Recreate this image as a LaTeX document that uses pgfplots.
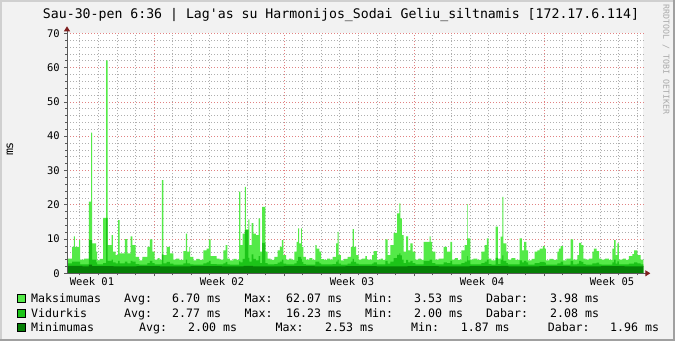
\documentclass[border=0pt]{standalone}
\usepackage{pgfplots}
\pgfplotsset{compat=1.18}
\usepackage{fontspec}
\setmainfont{DejaVu Sans Mono}
\setmonofont{DejaVu Sans Mono}
\usetikzlibrary{arrows.meta}
\definecolor{bgc}{RGB}{242,242,242}
\definecolor{shadeA}{RGB}{208,208,208}
\definecolor{shadeB}{RGB}{160,160,160}
\definecolor{cmax}{RGB}{84,234,72}
\definecolor{cavg}{RGB}{28,196,24}
\definecolor{cmin}{RGB}{6,128,6}
\definecolor{gridminor}{RGB}{175,175,175}
\definecolor{gridmajor}{RGB}{225,130,130}
\definecolor{axiscol}{RGB}{90,90,90}
\definecolor{arrowcol}{RGB}{127,31,31}
\definecolor{wmark}{RGB}{170,170,170}
\newcommand{\fT}{\ttfamily\fontsize{13.2}{15}\selectfont}
\newcommand{\fL}{\ttfamily\fontsize{11.6}{14}\selectfont}
\newcommand{\fA}{\ttfamily\fontsize{10.5}{12}\selectfont}
\begin{document}
\begin{tikzpicture}[x=1pt,y=1pt]
\fill[bgc] (0,0) rectangle (675,341);
\useasboundingbox (0,0) rectangle (675,341);
\fill[shadeA] (0,0) rectangle (2,341);
\fill[shadeA] (0,339) rectangle (675,341);
\fill[shadeB] (673,0) rectangle (675,341);
\fill[shadeB] (0,0) rectangle (675,2);
\begin{axis}[
  at={(67pt,67.7pt)}, anchor=south west,
  scale only axis, width=576.3pt, height=240pt,
  xmin=0, xmax=744.4, ymin=0, ymax=70,
  clip=false,
  axis line style={draw=none},
  axis background/.style={fill=white},
  grid=both,
  major grid style={color=gridmajor, dash pattern=on 1pt off 2pt, line width=0.7pt},
  minor grid style={color=gridminor, dash pattern=on 1pt off 2pt, line width=0.7pt},
  ytick={0,10,...,70}, minor y tick num=4,
  xtick={112.4,280.4,448.4,616.4}, xticklabels={},
  minor xtick={16.4,40.4,64.4,88.4,136.4,160.4,184.4,208.4,232.4,256.4,304.4,328.4,352.4,376.4,400.4,424.4,472.4,496.4,520.4,544.4,568.4,592.4,640.4,664.4,688.4,712.4,736.4},
  extra x ticks={32.3,200.2,368.1,536.1,704.0},
  extra x tick labels={Week 01,Week 02,Week 03,Week 04,Week 05},
  extra x tick style={grid=none, major tick length=0pt},
  xtick pos=bottom, ytick pos=left,
  tick align=outside, major tick length=3pt, minor tick length=2pt,
  tick style={color=axiscol, line width=0.6pt},
  /pgf/number format/assume math mode=true,
  yticklabel style={font=\fA, anchor=east, inner sep=0pt, xshift=-4pt},
  xticklabel style={font=\fA, anchor=base, inner sep=0pt, yshift=-12.5pt},
]
\addplot[const plot, fill=cmax, draw=none] coordinates {
(0,4.3) (6.5,7.7) (9.0,10.8) (10.3,7.7) (15.5,9.7) (16.8,4.0) (22,4.3) (28.4,20.9) (31.0,41) (32.3,8.7) (37.5,6.3) (38.8,3.8) (42,4.2) (46.5,16.2) (50.4,62.1) (52.6,8.2) (57.7,11.1) (59.4,6.3) (62.9,5.3) (65.9,15.5) (68.1,5.8) (74.9,10.0) (77.9,5.8) (82.3,10.8) (84.3,8.2) (88.7,4.8) (93.0,3.8) (97.3,4.8) (103.7,7.7) (107.2,9.9) (110.2,6.3) (113.3,4.0) (117,4.4) (119.5,3.9) (122.7,27.2) (124.6,5.3) (128.8,7.7) (133.0,5.8) (137.3,4.0) (141,4.3) (145,3.9) (150.2,6.5) (153.7,11.6) (155.0,6.3) (158.0,7.7) (158.9,4.8) (163.1,3.8) (167,4.2) (171,3.9) (176.1,6.7) (180.4,7.2) (183.4,9.9) (185.6,5.0) (193.4,4.3) (197,4.0) (201.9,6.7) (205.0,8.2) (207.1,4.3) (210.5,3.8) (215,4.2) (219,3.9) (222.2,23.8) (223.9,8.2) (227.0,11.6) (229.9,25.2) (231.2,12.8) (234.2,15.7) (235.5,8.2) (238.6,14.6) (240.6,11.6) (244.1,11.1) (247.6,16.0) (249.3,6.3) (251.9,19.4) (256.1,6.3) (259.2,4.3) (263,3.9) (267.8,4.8) (272.2,6.7) (275.1,7.7) (277.7,9.7) (279.4,5.3) (282.9,4.0) (287,4.3) (290,3.9) (293.6,6.3) (296.7,9.2) (298.4,13.1) (299.7,8.7) (302.3,13.1) (303.5,7.7) (305.2,4.8) (308.7,4.0) (313,4.4) (317,3.9) (320.7,8.2) (322.5,7.2) (325.9,6.3) (328.1,4.1) (332,3.9) (336,4.3) (340,4.0) (343.2,4.8) (347.5,8.7) (349.7,12.1) (351.0,5.3) (353.9,3.8) (358,4.2) (362.6,4.8) (366.8,7.7) (369.0,12.9) (370.7,7.7) (373.3,5.3) (376.8,4.0) (381,4.3) (385.3,5.0) (387.5,4.0) (394.0,5.3) (396.2,6.5) (400.4,4.0) (405,4.3) (408,3.9) (411.1,9.9) (414.2,5.3) (417.6,8.2) (422.0,11.8) (426.3,17.5) (429.2,20.4) (430.5,16.0) (432.7,11.1) (434.9,6.3) (437.9,10.8) (440.5,6.7) (443.4,8.7) (446.5,6.3) (449.9,4.0) (454,4.3) (457,3.9) (460.7,9.2) (468.5,10.8) (469.8,9.2) (471.5,6.3) (475.7,4.0) (480.1,4.3) (486.6,7.7) (490.8,6.3) (495.1,9.2) (497.3,4.0) (501,4.4) (505,3.9) (509.3,6.7) (513.7,8.2) (516.7,20.2) (517.6,10.2) (520.9,4.0) (525,4.3) (530,3.9) (535.2,6.3) (539.5,8.2) (542.5,10.2) (544.7,4.3) (548.1,3.8) (553.7,13.6) (556.7,4.3) (560.2,10.7) (562.3,22.3) (563.6,8.7) (567.4,6.3) (569.6,4.0) (574,4.4) (579,3.9) (584.7,10.2) (587.7,6.7) (590.3,9.2) (593.3,6.7) (595.5,3.8) (600,4.2) (604.1,6.3) (607.5,6.7) (610.6,7.2) (614.8,7.9) (617.0,7.2) (618.7,3.8) (623,4.2) (628,3.9) (633.3,6.3) (635.5,7.2) (637.7,7.9) (640.7,3.8) (645,4.3) (650.6,9.9) (653.6,4.0) (659.1,5.3) (661.4,8.9) (664.3,8.2) (666.9,4.3) (670.0,4.0) (674,4.3) (678.5,6.3) (680.7,7.2) (684.2,6.5) (687.2,4.3) (690.1,4.0) (695,4.3) (700,3.9) (704.4,7.2) (706.6,9.7) (708.8,5.3) (710.8,8.7) (713.0,4.0) (718,4.3) (722,3.9) (725.9,5.0) (730.2,5.6) (732.4,6.7) (736.6,5.3) (741.0,4.0) (744.4,4.0)
} \closedcycle;
\addplot[const plot, fill=cavg, draw=none] coordinates {
(0,2.9) (6.5,3.4) (16.8,2.6) (28.4,9.7) (32.3,4.0) (37.5,3.2) (38.8,2.6) (46.5,3.0) (50.4,16.2) (52.6,3.6) (57.7,4.0) (59.4,3.2) (62.9,2.9) (65.9,3.6) (68.1,2.9) (74.9,3.4) (77.9,2.9) (82.3,3.6) (84.3,3.4) (88.7,2.7) (93.0,2.5) (103.7,3.0) (107.2,3.6) (110.2,3.0) (113.3,2.6) (122.7,5.5) (124.6,2.9) (128.8,3.3) (133.0,2.8) (137.3,2.5) (150.2,2.9) (153.7,4.0) (155.0,2.9) (158.9,2.6) (163.1,2.5) (176.1,2.9) (180.4,3.2) (183.4,3.6) (185.6,2.7) (193.4,2.6) (201.9,2.9) (205.0,3.3) (207.1,2.6) (210.5,2.5) (222.2,3.5) (223.9,3.2) (227.0,4.2) (229.9,12.6) (234.2,4.5) (235.5,3.4) (238.6,5.5) (240.6,4.2) (244.1,3.8) (247.6,5.0) (249.3,3.0) (251.9,8.9) (256.1,3.0) (259.2,2.6) (267.8,2.7) (272.2,3.1) (275.1,3.4) (277.7,4.0) (279.4,2.8) (282.9,2.6) (293.6,2.9) (296.7,3.6) (298.4,4.8) (302.3,4.2) (303.5,3.3) (305.2,2.7) (308.7,2.5) (320.7,3.4) (325.9,2.9) (328.1,2.6) (343.2,2.7) (347.5,3.4) (349.7,4.0) (351.0,2.8) (353.9,2.5) (362.6,2.8) (366.8,3.4) (369.0,4.2) (370.7,3.3) (373.3,2.8) (376.8,2.6) (394.0,2.8) (396.2,3.2) (400.4,2.6) (411.1,3.6) (414.2,2.8) (417.6,3.4) (422.0,4.4) (426.3,5.4) (429.2,5.8) (430.5,5.2) (432.7,4.0) (434.9,3.0) (437.9,3.9) (440.5,3.2) (443.4,3.6) (446.5,3.0) (449.9,2.6) (460.7,3.6) (468.5,4.0) (471.5,3.0) (475.7,2.6) (486.6,3.2) (490.8,3.0) (495.1,3.6) (497.3,2.6) (509.3,3.0) (513.7,3.4) (516.7,5.0) (517.6,3.8) (520.9,2.6) (535.2,3.0) (539.5,3.4) (542.5,4.0) (544.7,2.7) (548.1,2.5) (553.7,4.5) (556.7,2.7) (560.2,4.0) (562.3,5.2) (563.6,3.6) (567.4,3.0) (569.6,2.6) (584.7,3.8) (587.7,3.2) (590.3,3.6) (593.3,3.2) (595.5,2.5) (604.1,3.0) (610.6,3.3) (617.0,3.1) (618.7,2.5) (633.3,2.9) (637.7,3.4) (640.7,2.5) (650.6,3.6) (653.6,2.6) (659.1,2.8) (661.4,3.6) (664.3,3.3) (666.9,2.7) (670.0,2.5) (678.5,2.9) (684.2,3.1) (687.2,2.6) (690.1,2.5) (704.4,3.2) (706.6,4.0) (708.8,2.8) (710.8,3.5) (713.0,2.6) (725.9,2.8) (732.4,3.2) (736.6,2.9) (741.0,2.6) (744.4,2.6)
} \closedcycle;
\addplot[const plot, fill=cmin, draw=none] coordinates {
(0,2.2) (20,2.0) (28.4,2.5) (32.3,2.1) (60,2.0) (90,2.1) (120,2.0) (160,2.1) (200,2.0) (228,2.2) (240,2.0) (280,2.1) (320,2.0) (360,2.1) (400,2.0) (440,2.1) (480,2.0) (520,2.1) (560,2.2) (570,2.0) (610,2.1) (650,2.0) (690,2.1) (720,2.0) (744.4,2.0)
} \closedcycle;
\draw[axiscol, line width=1pt, -{Triangle[length=5pt,width=6pt,color=arrowcol]}] (axis cs:0,0) -- ([yshift=7pt]axis cs:0,70);
\draw[axiscol, line width=1pt, -{Triangle[length=5pt,width=6pt,color=arrowcol]}] ([xshift=-3pt]axis cs:0,0) -- ([xshift=7pt]axis cs:744.4,0);
\end{axis}
% title, labels, watermark
\node[font=\fT, anchor=base, inner sep=0pt] at (341,322.2) {Sau-30-pen 6:36 | Lag\textquotesingle as su Harmonijos\_Sodai Geliu\_siltnamis [172.17.6.114]};
\node[font=\fL, rotate=90, anchor=center, inner sep=0pt] at (10,192) {ms};
\node[font=\ttfamily\fontsize{8.3}{10}\selectfont, text=wmark, rotate=-90, anchor=west, inner sep=0pt] at (666,337) {RRDTOOL / TOBI OETIKER};
% legend
\filldraw[fill=cmax, draw=black, line width=0.8pt] (17,39) rectangle (25,47);
\filldraw[fill=cavg, draw=black, line width=0.8pt] (17,24) rectangle (25,32);
\filldraw[fill=cmin, draw=black, line width=0.8pt] (17,10) rectangle (25,18);
\begin{scope}[every node/.style={font=\fL, anchor=base west, inner sep=0pt}]
\node at (31,38.8) {Maksimumas};
\node at (124,38.8) {Avg:};
\node at (172,38.8) {6.70 ms};
\node at (244.5,38.8) {Max:};
\node at (286,38.8) {62.07 ms};
\node at (365,38.8) {Min:};
\node at (414,38.8) {3.53 ms};
\node at (486,38.8) {Dabar:};
\node at (550,38.8) {3.98 ms};
\node at (31,23.8) {Vidurkis};
\node at (124,23.8) {Avg:};
\node at (172,23.8) {2.77 ms};
\node at (244.5,23.8) {Max:};
\node at (286,23.8) {16.23 ms};
\node at (365,23.8) {Min:};
\node at (414,23.8) {2.00 ms};
\node at (486,23.8) {Dabar:};
\node at (550,23.8) {2.08 ms};
\node at (31,9.8) {Minimumas};
\node at (139,9.8) {Avg:};
\node at (188,9.8) {2.00 ms};
\node at (275.5,9.8) {Max:};
\node at (325,9.8) {2.53 ms};
\node at (411,9.8) {Min:};
\node at (460.6,9.8) {1.87 ms};
\node at (547.6,9.8) {Dabar:};
\node at (610,9.8) {1.96 ms};
\end{scope}
\end{tikzpicture}
\end{document}
